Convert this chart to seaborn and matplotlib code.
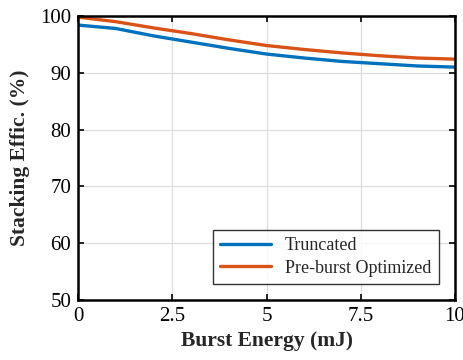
import numpy as np
import pandas as pd
import matplotlib
matplotlib.use("Agg")
import matplotlib.pyplot as plt
import seaborn as sns

# valores
energia = [0, 1, 2, 3, 4, 5, 6, 7, 8, 9, 10]
truncado = [98.4, 97.8, 96.5, 95.4, 94.3, 93.3, 92.6, 92.0, 91.6, 91.2, 91.0]
optimizado = [99.8, 99.0, 97.9, 96.9, 95.8, 94.8, 94.1, 93.5, 93.0, 92.6, 92.4]
series = ["Truncated", "Pre-burst Optimized"]
colores = ["#0072BD", "#D95319"]

df = pd.DataFrame({
    "energia": energia * 2,
    "eficiencia": truncado + optimizado,
    "serie": [series[0]] * len(energia) + [series[1]] * len(energia),
})

sns.set_style("ticks")
plt.rcParams["font.family"] = ["Liberation Serif", "DejaVu Serif"]

fig = plt.figure(figsize=(4.63, 3.6), dpi=100)
ax = fig.add_axes([0.1685, 0.1667, 0.8142, 0.7889])

sns.lineplot(data=df, x="energia", y="eficiencia", hue="serie",
             palette=colores, linewidth=2.4, ax=ax)

ax.set_xlim(0, 10)
ax.set_ylim(50, 100)
ax.set_xticks([0, 2.5, 5, 7.5, 10])
ax.set_xticklabels(["0", "2.5", "5", "7.5", "10"])
ax.set_yticks([50, 60, 70, 80, 90, 100])
ax.grid(True, color="#dddddd", linewidth=0.9)
ax.tick_params(direction="in", top=True, right=True, labelsize=15,
               length=4, width=1.2, colors="black", pad=5)
for s in ax.spines.values():
    s.set_linewidth(1.8)
    s.set_color("black")

ax.set_xlabel("Burst Energy (mJ)", fontsize=15.5, fontweight="bold", labelpad=4)
ax.set_ylabel("Stacking Effic. (%)", fontsize=15.5, fontweight="bold", labelpad=7)

leg = ax.legend(loc="lower right", fontsize=13, frameon=True, fancybox=False,
                edgecolor="black", handlelength=2.8, borderaxespad=0.9,
                borderpad=0.4, labelspacing=0.3)
leg.get_frame().set_linewidth(1.0)
leg.set_title(None)

fig.savefig("out.png", dpi=100)
